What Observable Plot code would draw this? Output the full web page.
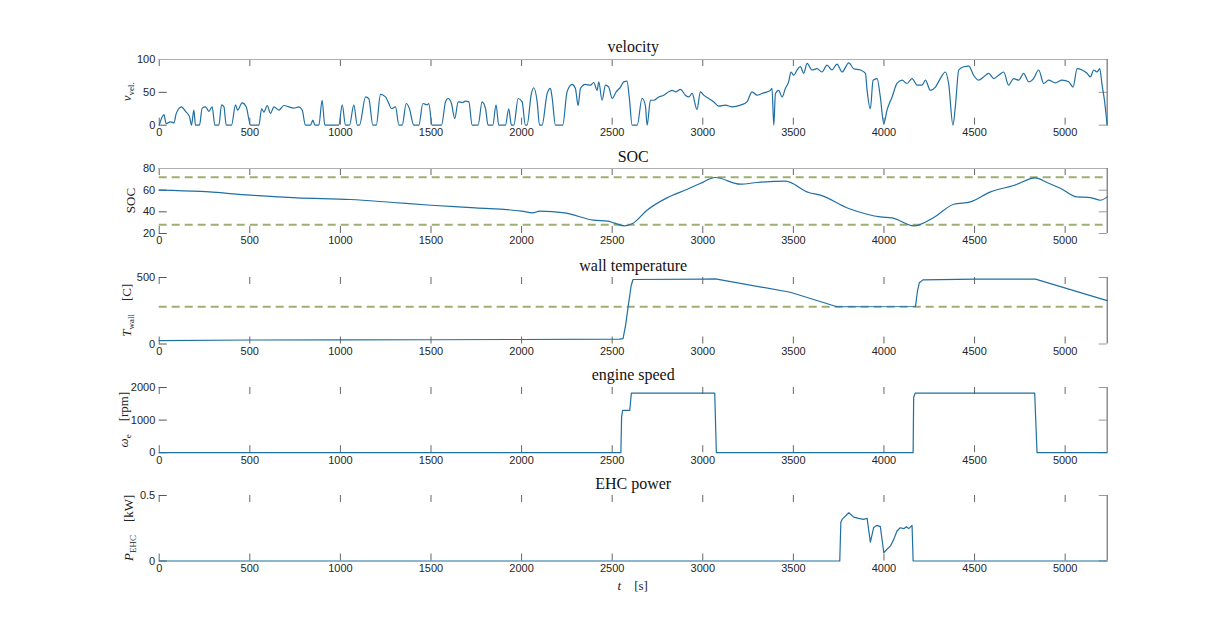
<!DOCTYPE html>
<html><head><meta charset="utf-8">
<script src="https://cdn.jsdelivr.net/npm/d3@7"></script>
<script src="https://cdn.jsdelivr.net/npm/@observablehq/plot@0.6"></script>
<style>
body{margin:0;background:#fff;}
#chart{position:relative;width:1223px;height:630px;background:#fff;overflow:hidden;}
#chart svg{position:absolute;left:0;overflow:visible;}
</style></head><body><div id="chart"></div>
<script>
// ---- data ----
const xTicks = [0,500,1000,1500,2000,2500,3000,3500,4000,4500,5000];
const xDomain = [0, 5232];

const velT = [0,26,38,62,81,94,123,145,167,178,191,200,222,237,256,274,292,307,329,344,357,370,399,421,432,458,480,504,550,565,578,596,614,633,660,688,715,743,771,789,807,835,848,859,881,899,914,991,1010,1028,1050,1074,1093,1105,1139,1157,1179,1198,1221,1249,1267,1282,1304,1323,1341,1363,1380,1405,1433,1455,1479,1488,1506,1558,1580,1594,1613,1631,1650,1672,1690,1709,1727,1760,1782,1801,1815,1841,1859,1874,1911,1929,1944,1957,1981,2003,2021,2030,2054,2067,2086,2099,2113,2141,2159,2168,2187,2227,2251,2279,2297,2312,2325,2352,2380,2398,2417,2426,2444,2463,2481,2500,2522,2546,2564,2582,2595,2610,2638,2665,2683,2693,2711,2729,2757,2785,2812,2831,2849,2877,2904,2923,2941,2968,2987,3005,3033,3060,3088,3125,3162,3208,3244,3272,3300,3327,3355,3373,3382,3392,3401,3419,3438,3456,3474,3487,3502,3520,3539,3557,3576,3603,3631,3658,3686,3713,3741,3769,3806,3833,3870,3898,3907,3925,3940,3962,3980,3999,4017,4045,4072,4100,4127,4155,4183,4210,4229,4256,4284,4311,4339,4357,4381,4394,4413,4440,4468,4495,4523,4550,4578,4606,4633,4661,4688,4716,4744,4771,4799,4826,4854,4882,4909,4946,4983,5020,5044,5066,5093,5121,5139,5158,5176,5191,5204,5217,5232];
const velV = [0,16,2.5,5,3.5,18,28,21,13,0,23,0,0,26,28,21,28,0,0,31,28,0,0,31,23,34,28,0,0,25,20,30,18,28,23,30,28,26,28,23,0,0,7.6,0,0,38,0,0,31,0,0,31,0,0,43,40,0,0,47,43,33,25,28,0,0,33,26,0,0,33,31,33,0,0,35.5,40.6,33,10,35.5,34.5,36.5,35.5,0,0,35.5,25,0,0,31,0,0,25,0,0,40.6,35.5,0,0,48,57,35.5,0,0,48,56,43,0,0,50.7,62,56,30,56,62,61,65,53,66,38,61,58,40.6,50.7,58,66,67,40.6,0,0,41,30,0,38,38,43,45.7,50.8,53,50.8,54.4,45.7,43,48.3,24,50.8,45.7,40.6,35.6,29,30.5,28,30.5,35.6,50.8,45.7,48.3,50.8,53,56,0,48.3,53,43,56,66,81,76,84,89,79,94,84,86,81,91.4,84,93,81,95,86,84,79,53,25,68.5,71,43,2.5,23,43,63.5,68.5,63.5,71,61,61,68.5,53,58,71,81,63.5,0,28,84,89,90,76,68.5,73.5,79,71,76,81,61,71,68.5,79,66,71,84,63.5,68.5,64.5,68.5,66,58,86,84,79,73.5,84,81,86,61,38,0];

const socT = [0,228,504,760,1056,1292,1500,1745,2002,2061,2100,2238,2396,2475,2509,2570,2612,2692,2802,2912,2986,3069,3207,3299,3456,3585,3649,3805,3907,3980,4045,4164,4275,4385,4477,4588,4716,4836,4900,4974,5066,5140,5195,5232];
const socV = [60,58.8,55.4,52.9,51.4,48.6,46.1,43.6,40.6,39.0,40.6,39.0,32.3,31.4,29.8,27.0,29.2,41.5,52.9,60.6,66.2,71.7,65.5,67.1,68.3,57.8,55.4,43.1,37.8,35.3,34.4,27.0,34.8,47.0,49.2,58.4,64.3,71.3,67.1,61.8,53.8,53.2,50.7,53.8];
const socLimits = [28, 72];

const wallT = [0,500,1000,1500,2000,2540,2560,2575,2590,2605,2615,3000,3070,3483,3741,4174,4185,4195,4215,4500,4836,5232];
const wallV = [25,30,31,32,34,36,40,150,300,440,485,488,490,389,280,282,400,460,482,488,488,326];
const wallLimit = [280];

const engT = [0,2548,2552,2558,2597,2606,3066,3075,4161,4164,4173,4832,4845,5232];
const engV = [0,0,1100,1300,1300,1830,1830,0,0,1700,1830,1830,0,0];

const ehcT = [0,3756,3762,3770,3806,3833,3860,3888,3907,3925,3943,3962,3980,3999,4017,4036,4054,4072,4090,4109,4124,4137,4155,4161,5232];
const ehcV = [0,0,0.296,0.32,0.368,0.335,0.326,0.318,0.326,0.144,0.255,0.272,0.262,0.063,0.09,0.115,0.165,0.229,0.254,0.247,0.262,0.247,0.272,0,0];

const titles = ["velocity","SOC","wall temperature","engine speed","EHC power"];
const yDomains = [[0,100],[20,80],[0,500],[0,2000],[0,0.5]];
const yTicksList = [[0,50,100],[20,40,60,80],[0,500],[0,1000,2000],[0,0.5]];

// ---- layout ----
const W = 1223, L = 158.7, R = 1106.7, plotW = R - L;
const tops = [59.3, 168.3, 276.5, 386.5, 495];
const heights = [65.7, 65, 66.5, 65.2, 65.5];
const labelX = [131, 135, 131, 128, 133];
const lineColor = "#1f6fa3";
const dashColor = "#9fae72";

const panels = [
  {t: velT, v: velV, rules: [], topLine: true, curve: "monotone-x", label: [{text:"v", it:true},{text:"vel.", sub:true}]},
  {t: socT, v: socV, rules: socLimits, topLine: true, curve: "monotone-x", label: [{text:"SOC"}]},
  {t: wallT, v: wallV, rules: wallLimit, topLine: false, curve: "linear", label: [{text:"T", it:true},{text:"wall", sub:true},{text:"\u2002\u2002[C]"}]},
  {t: engT, v: engV, rules: [], topLine: false, curve: "linear", label: [{text:"\u03C9", it:true},{text:"e", sub:true},{text:"\u2002\u2002[rpm]"}]},
  {t: ehcT, v: ehcV, rules: [], topLine: false, curve: "linear", label: [{text:"P", it:true},{text:"EHC", sub:true},{text:"\u2002\u2002[kW]"}]}
];

const chart = document.getElementById("chart");
const mt = 30, mb = 40;

panels.forEach((p, i) => {
  const h = heights[i];
  const yd = yDomains[i];
  const yt = yTicksList[i];
  const data = p.t.map((t, k) => ({t, v: p.v[k]}));
  const svg = Plot.plot({
    width: W, height: mt + h + mb,
    marginTop: mt, marginBottom: mb, marginLeft: L, marginRight: W - R,
    x: {domain: xDomain, axis: null},
    y: {domain: yd, axis: null},
    style: {fontFamily: "Liberation Sans, Arial, sans-serif", fontSize: "11px", color: "#262626", background: "transparent", overflow: "visible"},
    marks: [
      Plot.axisX({ticks: xTicks, tickSize: 0, tickPadding: 3, label: null, tickFormat: d => String(d)}),
      Plot.axisY({ticks: yt, tickSize: 0, tickPadding: 4, label: null, tickFormat: d => String(d)}),
      Plot.tickX(xTicks, {x: d => d, insetBottom: h - 7, stroke: "#666"}),
      Plot.tickX(xTicks, {x: d => d, insetTop: h - 7, stroke: "#666"}),
      Plot.tickY(yt, {y: d => d, insetRight: plotW - 8, stroke: "#555"}),
      Plot.tickY(yt, {y: d => d, insetLeft: plotW - 8, stroke: "#999"}),
      p.topLine ? Plot.ruleY([yd[1]], {stroke: "#b0b0b0"}) : null,
      Plot.ruleX([xDomain[1]], {stroke: "#555"}),
      Plot.ruleY(p.rules, {stroke: dashColor, strokeWidth: 2, strokeDasharray: "8,5"}),
      Plot.line(data, {x: "t", y: "v", stroke: lineColor, strokeWidth: 1.2, curve: p.curve}),
      Plot.text([titles[i]], {frameAnchor: "top", dy: -7, lineAnchor: "bottom", text: d => d, fontFamily: "Liberation Serif, Times New Roman, serif", fontSize: 16, fill: "#111"})
    ]
  });
  const svgTop = tops[i] - mt;
  svg.style.top = svgTop + "px";
  const sel = d3.select(svg);
  const lab = sel.append("text")
    .attr("transform", `translate(${labelX[i]},${mt + h / 2}) rotate(-90)`)
    .attr("text-anchor", "middle")
    .attr("font-family", "Liberation Serif, Times New Roman, serif")
    .attr("font-size", 13)
    .attr("fill", "#222");
  let shifted = false;
  p.label.forEach(seg => {
    const ts = lab.append("tspan").text(seg.text);
    if (seg.it) ts.attr("font-style", "italic");
    if (seg.sub) { ts.attr("font-size", 9).attr("dy", 3); shifted = true; }
    else if (shifted) { ts.attr("dy", -3); shifted = false; }
  });
  if (i === panels.length - 1) {
    const xl = sel.append("text")
      .attr("x", (L + R) / 2).attr("y", 590 - svgTop)
      .attr("text-anchor", "middle")
      .attr("font-family", "Liberation Serif, Times New Roman, serif")
      .attr("font-size", 13).attr("fill", "#222");
    xl.append("tspan").attr("font-style", "italic").text("t");
    xl.append("tspan").text("\u2002\u2002[s]");
  }
  chart.appendChild(svg);
});
</script></body></html>
